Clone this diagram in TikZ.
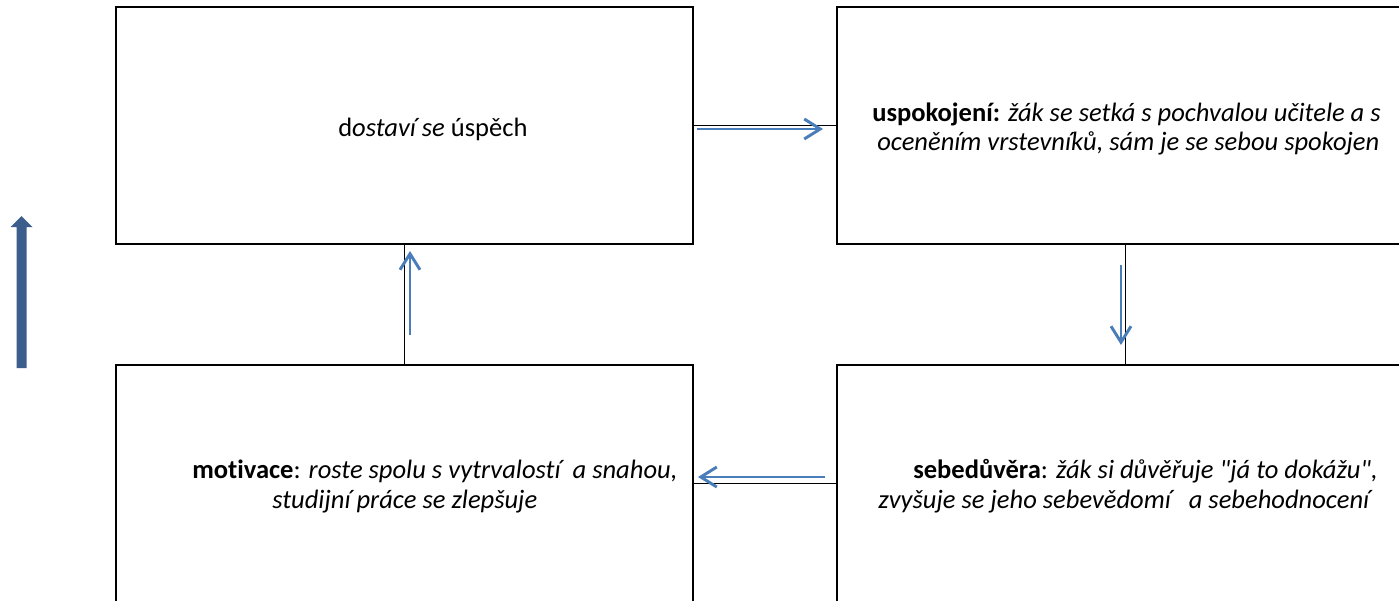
\documentclass[tikz,border=0pt]{standalone}
\usepackage{fontspec}
\setmainfont{Carlito}[Ligatures={NoCommon}]
\usetikzlibrary{arrows.meta}
\definecolor{flowblue}{RGB}{74,126,187}
\definecolor{bigblue}{RGB}{59,94,140}
\tikzset{
  box/.style={draw=black, line width=1.6pt, minimum width=577*0.75pt, minimum height=237*0.75pt, inner sep=0pt, outer sep=0pt},
  link/.style={draw=black, line width=0.8pt},
  flow/.style={draw=flowblue, line width=2.2pt, -{Straight Barb[length=12pt, width=15pt, line width=2.2pt]}},
  txt/.style={anchor=base west, inner sep=0pt, font=\fontsize{19.9}{24}\selectfont},
}
\begin{document}
\begin{tikzpicture}[x=0.75pt, y=-0.75pt]
\useasboundingbox (0,0) rectangle (1399,600);
\fill[white] (0,0) rectangle (1399,600);
\begin{scope}
\clip (0,0) rectangle (1399,600);
\node[box] (tl) at (404.5,125.5) {};
\node[box] (tr) at (1125.5,125.5) {};
\node[box] (bl) at (404.5,483.5) {};
\node[box] (br) at (1125.5,483.5) {};

\draw[link] (tl.east) -- (tr.west);
\draw[link] (tr.south) -- (br.north);
\draw[link] (br.west) -- (bl.east);
\draw[link] (bl.north) -- (tl.south);

\coordinate (a1s) at (697,129); \coordinate (a1e) at (823,129);
\coordinate (a2s) at (1121,265); \coordinate (a2e) at (1121,345);
\coordinate (a3s) at (825,477); \coordinate (a3e) at (698,477);
\coordinate (a4s) at (410,335); \coordinate (a4e) at (410,251);
\draw[flow] (a1s) -- (a1e);
\draw[flow] (a2s) -- (a2e);
\draw[flow] (a3s) -- (a3e);
\draw[flow] (a4s) -- (a4e);

\node[txt] (t0) at (338,136) {d\textit{ostaví se} úspěch};
\node[txt] (t1) at (872,121) {\textbf{uspokojení:} \textit{žák se setká s pochvalou učitele a s}};
\node[txt] (t2) at (877,150) {\textit{oceněním vrstevníků, sám je se sebou spokojen}};
\node[txt] (t3) at (913,478) {\textbf{sebedůvěra}: \textit{žák si důvěřuje \textquotedbl já to dokážu\textquotedbl ,}};
\node[txt] (t4) at (878,508) {\textit{zvyšuje se jeho sebevědomí \ \ a sebehodnocení}};
\node[txt] (t5) at (192,478) {\textbf{motivace}: \textit{roste spolu s vytrvalostí \ a snahou,}};
\node[txt] (t6) at (272,508) {\textit{studijní práce se zlepšuje}};

\fill[bigblue] (16.5,368) -- (16.5,227) -- (10.5,227) -- (21.5,216) -- (32.5,227) -- (26.5,227) -- (26.5,368) -- cycle;
\end{scope}
\end{tikzpicture}
\end{document}
